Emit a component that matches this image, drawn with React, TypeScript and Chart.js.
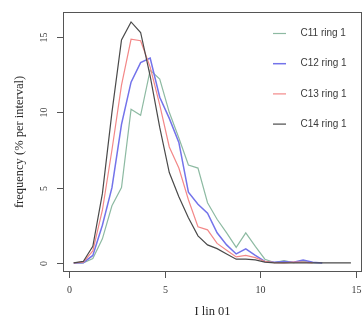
import { useEffect, useRef } from "react";
import { Chart, registerables } from "chart.js";

Chart.register(...registerables);

const binCenters = [
  0.25, 0.75, 1.25, 1.75, 2.25, 2.75, 3.25, 3.75, 4.25, 4.75, 5.25, 5.75, 6.25, 6.75, 7.25,
  7.75, 8.25, 8.75, 9.25, 9.75, 10.25, 10.75, 11.25, 11.75, 12.25, 12.75, 13.25, 13.75, 14.25, 14.75,
];

const seriesLabels = ["C11 ring 1", "C12 ring 1", "C13 ring 1", "C14 ring 1"];
const seriesColors = ["#8dbaa2", "#7373ea", "#f38888", "#4a4a4a"];
const seriesWidths = [1.2, 1.5, 1.2, 1.2];

const c11 = [0, 0, 0.3, 1.6, 3.8, 5.0, 10.2, 9.8, 12.8, 12.2, 10.0, 8.3, 6.5, 6.3, 4.0, 2.9, 2.0, 1.04, 2.0, 1.1, 0.25, 0.02, 0.15, 0.02, 0.1, 0.02, 0];
const c12 = [0, 0.02, 0.5, 2.5, 5.0, 9.2, 12.0, 13.3, 13.6, 11.0, 9.6, 8.0, 4.7, 3.9, 3.3, 2.0, 1.2, 0.6, 0.93, 0.5, 0.1, 0.05, 0.1, 0.05, 0.2, 0.05, 0];
const c13 = [0, 0.05, 0.8, 3.5, 7.5, 11.8, 14.85, 14.75, 13.0, 10.5, 7.7, 6.3, 4.2, 2.4, 2.2, 1.3, 0.85, 0.4, 0.5, 0.35, 0.1, 0.02, 0, 0.05, 0.05, 0];
const c14 = [0, 0.1, 1.1, 4.6, 10.0, 14.8, 16.0, 15.3, 12.4, 9.0, 6.0, 4.4, 3.0, 1.8, 1.2, 0.95, 0.6, 0.25, 0.25, 0.2, 0.05, 0, 0, 0, 0, 0, 0, 0, 0, 0];

const xTicks = [0, 5, 10, 15];
const yTicks = [0, 5, 10, 15];
const xTitle = "I lin 01";
const yTitle = "frequency (% per interval)";

const allSeries = [c11, c12, c13, c14];

const rAxesPlugin = {
  id: "rAxes",
  afterDraw(chart: any) {
    const { ctx, chartArea } = chart;
    const { left, right, top, bottom } = chartArea;
    const xs = chart.scales.x;
    const ys = chart.scales.y;
    ctx.save();
    // box
    ctx.strokeStyle = "#555";
    ctx.lineWidth = 1;
    ctx.strokeRect(left + 0.5, top + 0.5, right - left - 1, bottom - top - 1);

    // x axis ticks + labels
    ctx.fillStyle = "#3a3a3a";
    ctx.font = "10px 'Liberation Serif', 'DejaVu Serif', serif";
    ctx.textAlign = "center";
    ctx.textBaseline = "middle";
    for (const v of xTicks) {
      const px = Math.round(xs.getPixelForValue(v)) + 0.5;
      ctx.beginPath();
      ctx.moveTo(px, bottom);
      ctx.lineTo(px, bottom + 6);
      ctx.stroke();
      ctx.fillText(String(v), px, 290);
    }
    // y axis ticks + rotated labels
    for (const v of yTicks) {
      const py = Math.round(ys.getPixelForValue(v)) + 0.5;
      ctx.beginPath();
      ctx.moveTo(left, py);
      ctx.lineTo(left - 6, py);
      ctx.stroke();
      ctx.save();
      ctx.translate(44, py);
      ctx.rotate(-Math.PI / 2);
      ctx.fillText(String(v), 0, 0);
      ctx.restore();
    }
    // titles
    ctx.font = "12.5px 'Liberation Serif', 'DejaVu Serif', serif";
    ctx.fillStyle = "#2a2a2a";
    ctx.fillText(xTitle, (left + right) / 2, 312);
    ctx.save();
    ctx.translate(20, (top + bottom) / 2);
    ctx.rotate(-Math.PI / 2);
    ctx.fillText(yTitle, 0, 0);
    ctx.restore();

    // legend
    ctx.font = "10px 'Liberation Sans', Arial, sans-serif";
    ctx.textAlign = "left";
    chart.data.datasets.forEach((ds: any, i: number) => {
      const ly = 33.5 + i * 30.2;
      ctx.strokeStyle = ds.borderColor;
      ctx.lineWidth = ds.borderWidth;
      ctx.beginPath();
      ctx.moveTo(273, ly);
      ctx.lineTo(286, ly);
      ctx.stroke();
      ctx.fillStyle = "#3a3a3a";
      ctx.fillText(ds.label, 300.5, ly);
    });
    ctx.restore();
  },
};

export default function App() {
  const canvasRef = useRef<HTMLCanvasElement | null>(null);

  useEffect(() => {
    const canvas = canvasRef.current;
    if (!canvas) return;
    const chart = new Chart(canvas, {
      type: "line",
      data: {
        datasets: allSeries.map((s, i) => ({
          label: seriesLabels[i],
          data: s.map((y, j) => ({ x: binCenters[j], y })),
          borderColor: seriesColors[i],
          backgroundColor: seriesColors[i],
          borderWidth: seriesWidths[i],
          pointRadius: 0,
          tension: 0,
          fill: false,
          order: allSeries.length - i,
        })),
      },
      options: {
        animation: false,
        responsive: false,
        devicePixelRatio: 1,
        layout: { padding: { left: 63, top: 12, right: 1, bottom: 48 } },
        plugins: { legend: { display: false }, tooltip: { enabled: false } },
        scales: {
          x: { type: "linear", min: -0.31, max: 15.33, display: false },
          y: { type: "linear", min: -0.6, max: 16.66, display: false },
        },
      },
      plugins: [rAxesPlugin],
    });
    return () => chart.destroy();
  }, []);

  return (
    <div style={{ position: "absolute", left: 0, top: 0, width: 363, height: 320, background: "#fff" }}>
      <canvas ref={canvasRef} width={363} height={320} style={{ display: "block" }} />
    </div>
  );
}
